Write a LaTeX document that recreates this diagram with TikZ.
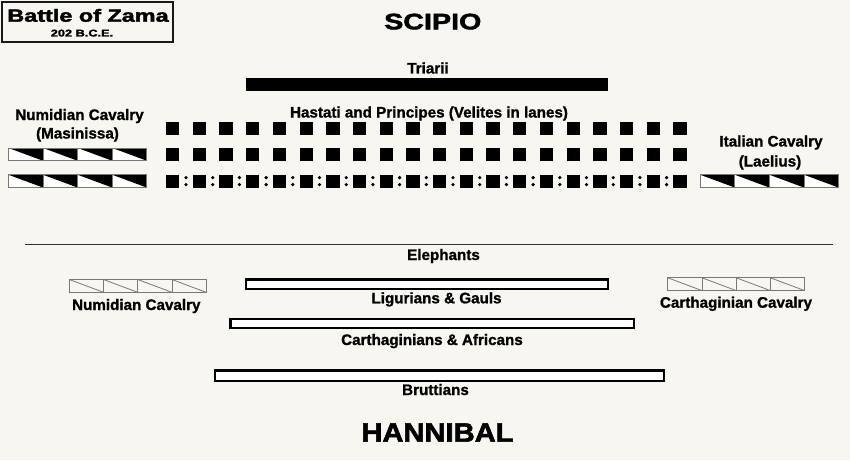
\documentclass[tikz,border=0pt]{standalone}
\usepackage{graphicx}
\usepackage{fontspec}
\setmainfont{Liberation Sans}
\newfontfamily\lblfont[FakeBold=1.2]{Liberation Sans Bold}
\newfontfamily\headfont[FakeBold=2]{Liberation Sans Bold}
\definecolor{bgc}{RGB}{247,246,241}
\definecolor{cellgray}{RGB}{120,120,120}
\definecolor{linegray}{RGB}{50,50,50}
\begin{document}
\begin{tikzpicture}[x=1pt,y=-1pt,
  lbl/.style={font=\fontsize{15.2}{17}\selectfont\lblfont, inner sep=0pt, anchor=base},
  unitsq/.style={fill=black},
  openbar/.style={draw=black, line width=2.2pt, fill=white},
  ccell/.style={draw=cellgray, line width=0.8pt},
  rcell/.style={draw=cellgray, line width=0.9pt}]
\fill[bgc] (0,0) rectangle (850,460);
\useasboundingbox (0,0) rectangle (850,460);

% title box
\draw[line width=2pt, draw=black!90] (2,2) rectangle (173,42);
\node[inner sep=0pt, anchor=base] (title) at (88,21.7) {\scalebox{1.33}[1]{\fontsize{17.6}{20}\selectfont\headfont Battle of Zama}};
\node[inner sep=0pt, anchor=base] (date) at (82,36.5) {\scalebox{1.3}[1]{\fontsize{9.8}{11}\selectfont\headfont 202 B.C.E.}};

% headings
\node[inner sep=0pt, anchor=base] (scipio) at (432.8,29.3) {\scalebox{1.28}[1]{\fontsize{22.4}{26}\selectfont\headfont SCIPIO}};
\node[inner sep=0pt, anchor=base] (hannibal) at (437.5,441.7) {\scalebox{1.1}[1]{\fontsize{26.5}{30}\selectfont\headfont HANNIBAL}};

% Roman side
\node[lbl] (triarii) at (428,73.5) {Triarii};
\fill[black] (246,77.7) rectangle (608.3,90.7);
\node[lbl] (hastati) at (429,117.5) {Hastati and Principes (Velites in lanes)};

\foreach \i in {0,...,19}{
  \pgfmathsetmacro{\xx}{166+26.7*\i}
  \fill[unitsq] (\xx,122) rectangle ++(13.3,13);
  \fill[unitsq] (\xx,148) rectangle ++(13.3,13);
  \fill[unitsq] (\xx,174.5) rectangle ++(13.3,13);
}
\foreach \i in {0,...,18}{
  \pgfmathsetmacro{\xx}{166+26.7*\i+20}
  \fill[black] (\xx,177.6) circle (1.8);
  \fill[black] (\xx,184.6) circle (1.8);
}

\node[lbl] (numtop) at (79.5,120) {Numidian Cavalry};
\node[lbl] (masin) at (77.5,138.5) {(Masinissa)};
\node[lbl] (ital) at (771,146.5) {Italian Cavalry};
\node[lbl] (lael) at (770,166.5) {(Laelius)};

% Roman cavalry cells
\foreach \xs/\ys in {8.5/148, 8.5/174.8, 700.3/174.8}{
  \foreach \k in {0,...,3}{
    \pgfmathsetmacro{\xl}{\xs+34.6*\k}
    \pgfmathsetmacro{\xr}{\xs+34.6*(\k+1)}
    \fill[white] (\xl,\ys) rectangle (\xr,\ys+12.8);
    \fill[black] (\xl,\ys) -- (\xr,\ys) -- (\xr,\ys+12.8) -- cycle;
    \draw[rcell] (\xl,\ys) rectangle (\xr,\ys+12.8);
  }
}

% separator
\draw[line width=1.4pt, draw=linegray] (25,244.5) -- (832.7,244.5);

% Carthaginian side
\node[lbl] (eleph) at (443.5,260) {Elephants};
\draw[openbar] (246.1,279.4) rectangle (607.6,289);
\node[lbl] (ligur) at (436.5,303.3) {Ligurians \& Gauls};
\draw[openbar] (230.4,318.8) rectangle (633.6,328.3);
\node[lbl] (carth) at (432,345) {Carthaginians \& Africans};
\draw[openbar] (215.1,370.4) rectangle (664.2,380.6);
\node[lbl] (brutt) at (435.5,395) {Bruttians};

\foreach \xs/\ys in {69.3/279.5, 667.8/277.8}{
  \foreach \k in {0,...,3}{
    \pgfmathsetmacro{\xl}{\xs+34.2*\k}
    \pgfmathsetmacro{\xr}{\xs+34.2*(\k+1)}
    \draw[ccell] (\xl,\ys) rectangle (\xr,\ys+12.8);
    \draw[ccell] (\xl,\ys) -- (\xr,\ys+12.8);
  }
}
\node[lbl] (numbot) at (136.3,310) {Numidian Cavalry};
\node[lbl] (cartcav) at (736,307.7) {Carthaginian Cavalry};
\end{tikzpicture}
\end{document}
